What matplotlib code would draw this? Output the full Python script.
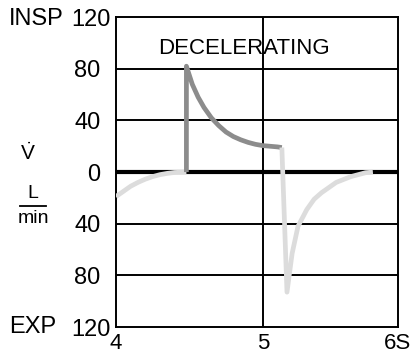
import matplotlib
matplotlib.use("Agg")
import matplotlib.pyplot as plt
from matplotlib.lines import Line2D

plt.rcParams["font.family"] = ["Liberation Sans", "DejaVu Sans"]
plt.rcParams["mathtext.fontset"] = "custom"
plt.rcParams["mathtext.rm"] = "Liberation Sans"

# expiration tail of the previous breath (L/min, negative = expiratory)
exp1_t = [4.0, 4.05, 4.1, 4.15, 4.2, 4.25, 4.3, 4.35, 4.4, 4.48]
exp1_v = [-19, -15, -11, -8, -5.5, -3.5, -2, -1, -0.3, 0]

# decelerating inspiratory flow
insp_t = [4.48, 4.48, 4.52, 4.56, 4.6, 4.65, 4.7, 4.75, 4.8, 4.85, 4.9,
          4.95, 5.0, 5.05, 5.1, 5.13]
insp_v = [0, 82, 68, 58, 50, 42, 36, 31, 27.5, 25, 23, 21.5, 20.5, 20, 19.5, 19]

# following expiration
exp2_t = [5.13, 5.165, 5.2, 5.24, 5.3, 5.35, 5.4, 5.5, 5.6, 5.7, 5.75]
exp2_v = [19, -93, -63, -42, -29, -21, -16, -8, -3.5, -0.5, 0]

yticks = [120, 80, 40, 0, -40, -80, -120]
ylabels = ["120", "80", "40", "0", "40", "80", "120"]
xticks = [4, 5, 5.92]
xlabels = ["4", "5", "6S"]

fig = plt.figure(figsize=(4.14, 3.57), dpi=100)
ax = fig.add_axes([0.280, 0.084, 0.681, 0.868])
ax.set_xlim(4, 5.92)
ax.set_ylim(-120, 120)

for y in [80, 40, -40, -80]:
    ax.axhline(y, color="black", lw=1.4, zorder=1)
ax.axhline(0, color="black", lw=3, zorder=1)
ax.axvline(5, color="black", lw=1.4, zorder=1)

ax.plot(exp1_t, exp1_v, color="#dcdcdc", lw=3.4, solid_capstyle="butt", zorder=3)
ax.plot(insp_t, insp_v, color="#8c8c8c", lw=3.4, solid_capstyle="butt", zorder=3)
ax.plot(exp2_t, exp2_v, color="#dcdcdc", lw=3.4, solid_capstyle="butt", zorder=3)

for s in ax.spines.values():
    s.set_linewidth(1.4)

ax.set_yticks(yticks)
ax.set_yticklabels(ylabels, fontsize=17)
ax.set_xticks(xticks)
ax.set_xticklabels(xlabels, fontsize=16)
ax.tick_params(length=0)
ax.tick_params(axis="x", pad=4)
for i, t in enumerate(ax.yaxis.get_major_ticks()):
    t.set_pad(4 if i in (0, len(yticks) - 1) else 11)

ax.text(0.455, 0.9, "DECELERATING", transform=ax.transAxes, ha="center",
        va="center", fontsize=16)

fig.text(9 / 414, 1 - 19 / 357, "INSP", fontsize=17, va="center", ha="left")
fig.text(9 / 414, 1 - 327 / 357, "EXP", fontsize=17, va="center", ha="left")
fig.text(28 / 414, 1 - 153 / 357, r"$\dot{\mathrm{V}}$", fontsize=15,
         ha="center", va="center")
fig.text(33 / 414, 1 - 194 / 357, "L", fontsize=14, ha="center", va="center")
fig.add_artist(Line2D([20 / 414, 46 / 414], [1 - 206 / 357, 1 - 206 / 357],
                      transform=fig.transFigure, color="black", lw=1.3))
fig.text(33 / 414, 1 - 218 / 357, "min", fontsize=14, ha="center", va="center")

fig.savefig("out.png", dpi=100)
